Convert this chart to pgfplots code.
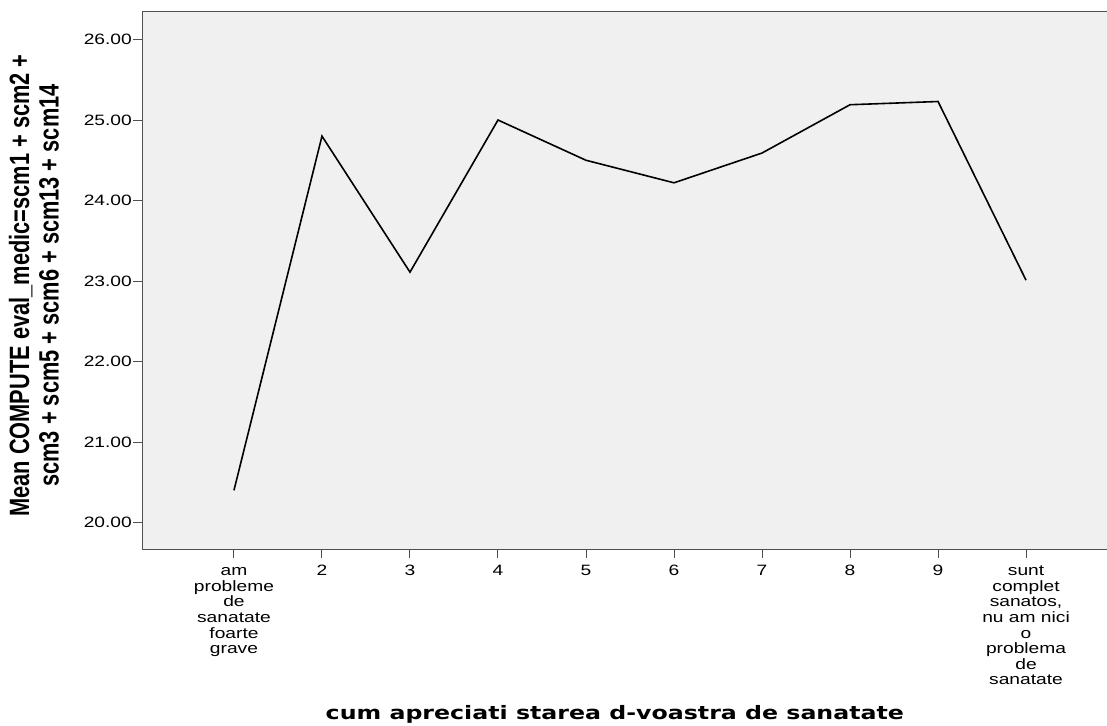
\documentclass[border=0pt]{standalone}
\usepackage{fontspec}
\usepackage{graphicx}
\usepackage{pgfplots}
\pgfplotsset{compat=1.18}
\setmainfont{Liberation Sans}
\newfontfamily\tickfont{Liberation Sans}[FakeStretch=1.28]
\newfontfamily\xlabfont{DejaVu Sans}[FakeStretch=1.28]
\definecolor{plotbg}{HTML}{F0F0F0}
\definecolor{frame}{HTML}{505050}

\begin{document}
\begin{tikzpicture}
\useasboundingbox (0pt,0pt) rectangle (1107pt,725pt);
\begin{axis}[
  at={(142pt,176pt)}, anchor=south west,
  width=965pt, height=537pt, scale only axis,
  xmin=-0.045, xmax=10.92,
  ymin=19.671, ymax=26.342,
  axis x line*=box, axis y line*=left,
  axis line style={frame, line width=1pt},
  axis background/.style={fill=plotbg},
  tick align=outside, major tick length=9pt,
  tick style={frame, line width=1pt},
  xtick pos=bottom,
  xtick={1,2,3,4,5,6,7,8,9,10},
  xticklabels={{\vphantom{2}am\\probleme\\de\\sanatate\\foarte\\grave},2,3,4,5,6,7,8,9,
    {\vphantom{2}sunt\\complet\\sanatos,\\nu am nici\\o\\problema\\de\\sanatate}},
  ytick={20,21,22,23,24,25,26},
  /pgf/number format/assume math mode=true,
  yticklabel style={/pgf/number format/fixed, /pgf/number format/fixed zerofill,
    /pgf/number format/precision=2, anchor=east, inner sep=1pt},
  tick label style={font=\tickfont\fontsize{15}{15.6}\selectfont, text=black},
  xticklabel style={align=center, anchor=north, inner sep=0pt, yshift=-7pt},
  ylabel={\scalebox{1}[1.28]{\fontsize{21.8}{23.4}\selectfont\bfseries
    \begin{tabular}{@{}c@{}}Mean COMPUTE eval\_medic=scm1 + scm2 +\\[-0.3pt]
    scm3 + scm5 + scm6 + scm13 + scm14\end{tabular}}},
  ylabel style={at={(axis description cs:-0.1078,0.4907)}, anchor=center, inner sep=0pt},
  xlabel={\xlabfont\fontsize{18.5}{20}\selectfont\bfseries cum apreciati starea d-voastra de sanatate},
  xlabel style={at={(axis description cs:0.490,-0.3184)}, anchor=base, inner sep=0pt},
]
\addplot[black, line width=1.6pt, line join=miter] coordinates {
  (1,20.40) (2,24.80) (3,23.11) (4,25.00) (5,24.50)
  (6,24.22) (7,24.59) (8,25.19) (9,25.23) (10,23.01)
};
\end{axis}
\end{tikzpicture}
\end{document}
